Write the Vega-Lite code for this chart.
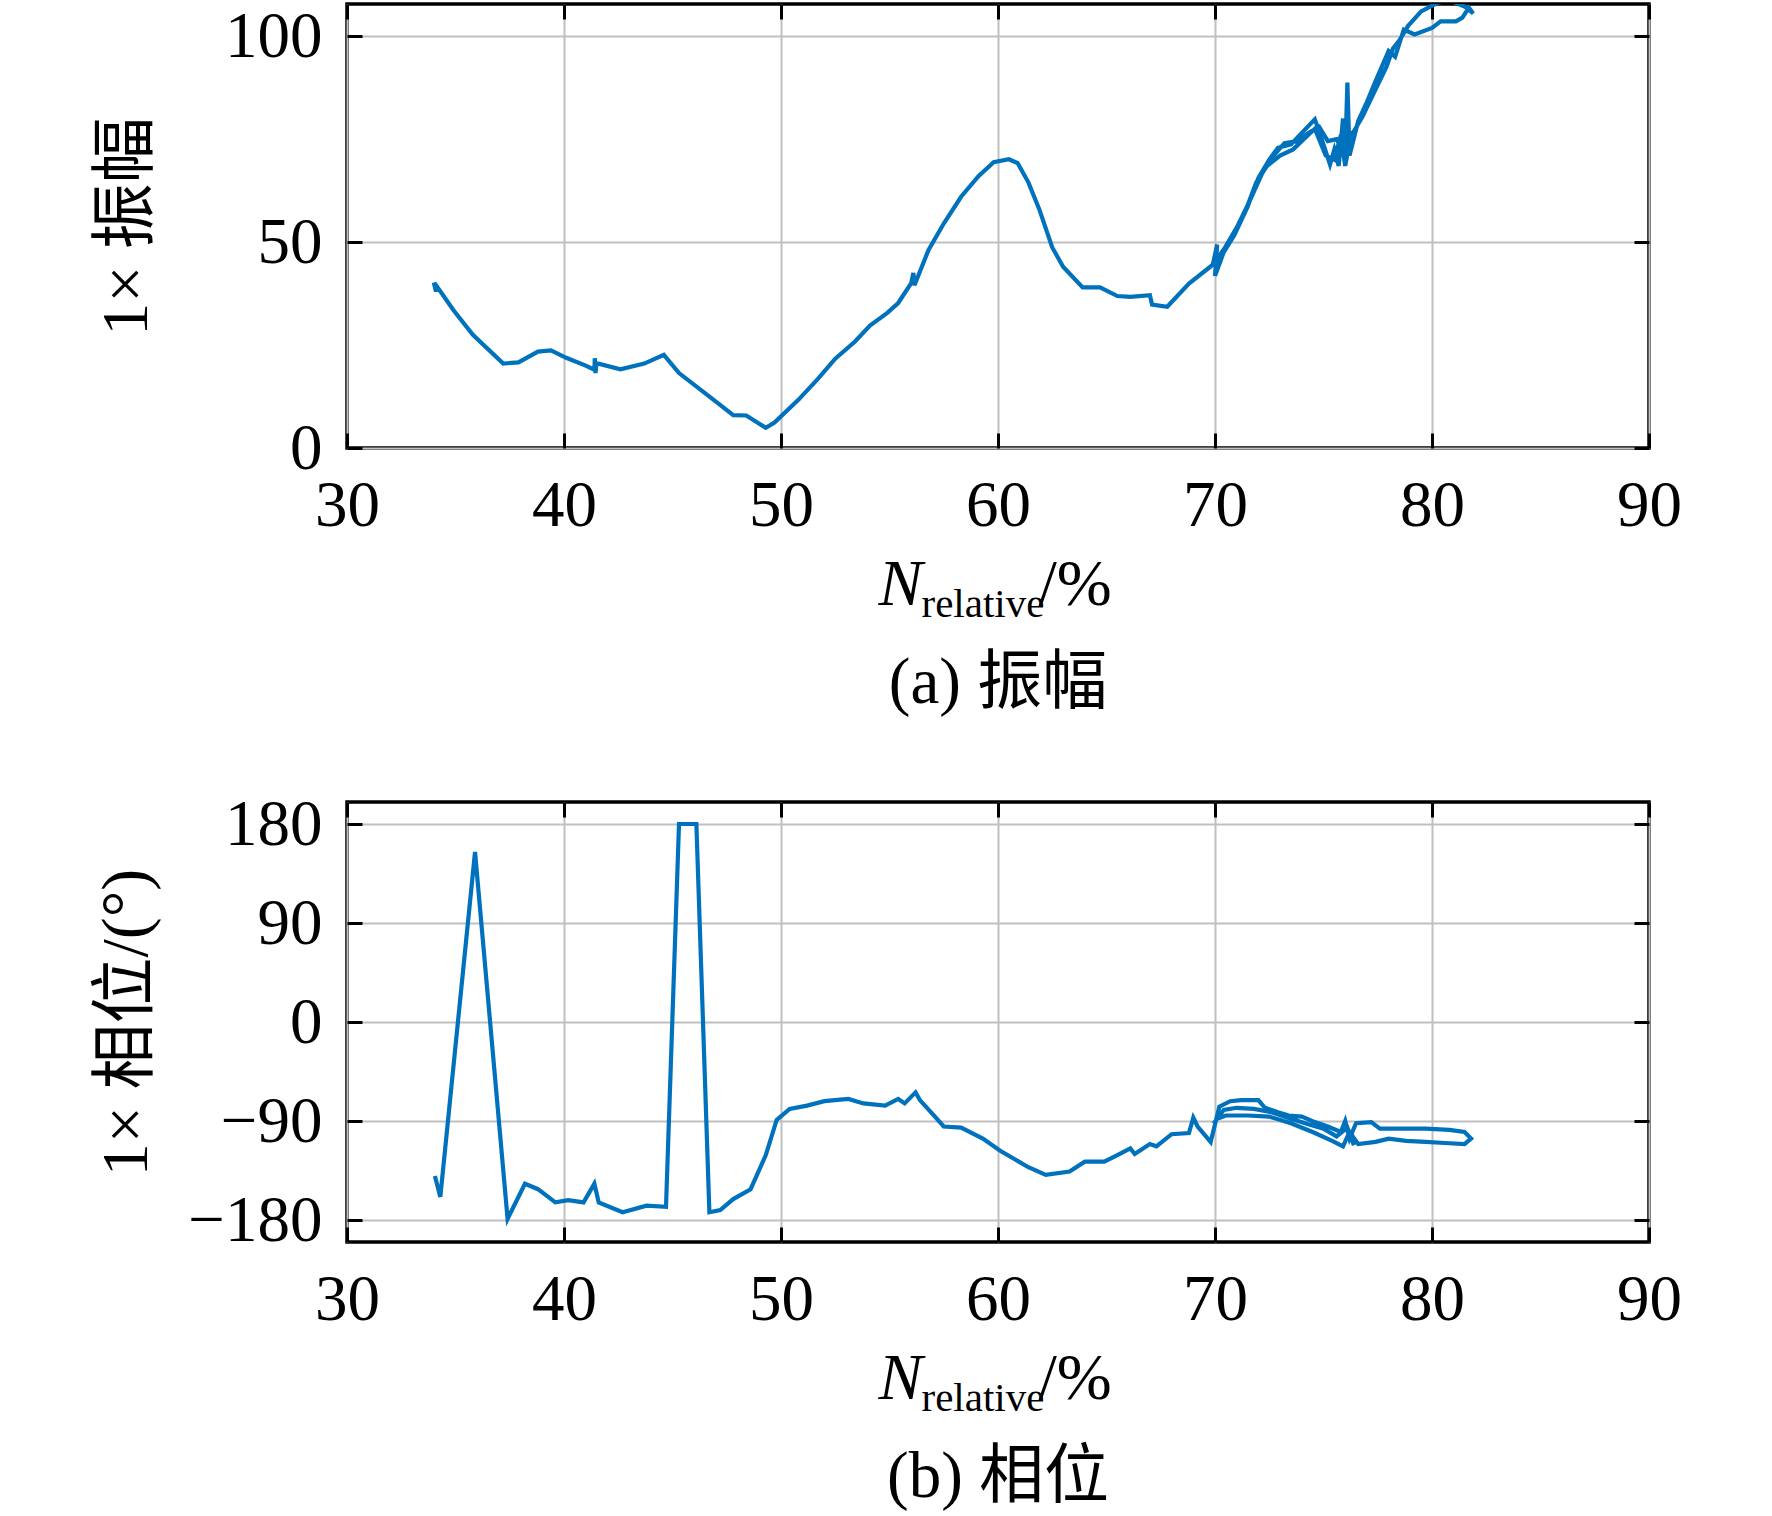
{
  "$schema": "https://vega.github.io/schema/vega-lite/v6.json",
  "padding": {"left": 91, "top": 0, "right": 0, "bottom": 0},
  "spacing": 354,
  "bounds": "flush",
  "background": "white",
  "config": {
    "view": {"stroke": "#000000", "strokeWidth": 3.5},
    "axis": {
      "labelFont": "Liberation Serif",
      "labelFontSize": 65,
      "labelColor": "#000000",
      "labelFlush": false,
      "titleFont": "Liberation Serif, Noto Sans CJK SC",
      "titleFontSize": 66,
      "titleFontWeight": "normal",
      "titleColor": "#000000",
      "tickColor": "#000000",
      "tickWidth": 3,
      "tickSize": -15,
      "domain": false,
      "gridColor": "#c0c0c0",
      "gridWidth": 2,
      "gridOpacity": 1
    },
    "title": {
      "font": "Liberation Serif, Noto Sans CJK SC",
      "fontSize": 65,
      "fontWeight": "normal",
      "color": "#000000"
    }
  },
  "vconcat": [
    {
      "width": 1302,
      "height": 444,
      "title": {"text": "(a) 振幅", "orient": "bottom", "frame": "group", "anchor": "middle", "baseline": "alphabetic", "offset": 79},
      "data": {
        "values": [
          {"n": 34.0, "amp": 40.2}, {"n": 34.1, "amp": 38.0}, {"n": 34.15, "amp": 39.2}, {"n": 34.9, "amp": 33.5},
          {"n": 35.8, "amp": 27.5}, {"n": 37.2, "amp": 20.5}, {"n": 37.9, "amp": 20.8}, {"n": 38.8, "amp": 23.4},
          {"n": 39.4, "amp": 23.7}, {"n": 40.1, "amp": 21.9}, {"n": 41.0, "amp": 20.0}, {"n": 41.4, "amp": 19.0},
          {"n": 41.42, "amp": 21.8}, {"n": 41.45, "amp": 18.2}, {"n": 41.5, "amp": 20.6}, {"n": 42.6, "amp": 19.1},
          {"n": 43.7, "amp": 20.5}, {"n": 44.6, "amp": 22.6}, {"n": 45.3, "amp": 18.2}, {"n": 46.6, "amp": 12.9},
          {"n": 47.8, "amp": 8.0}, {"n": 48.4, "amp": 7.9}, {"n": 49.3, "amp": 4.9}, {"n": 49.7, "amp": 6.2},
          {"n": 50.8, "amp": 11.7}, {"n": 51.7, "amp": 16.8}, {"n": 52.5, "amp": 21.7}, {"n": 53.4, "amp": 25.8},
          {"n": 54.1, "amp": 29.7}, {"n": 54.9, "amp": 32.8}, {"n": 55.4, "amp": 35.2}, {"n": 56.0, "amp": 40.0},
          {"n": 56.1, "amp": 42.5}, {"n": 56.15, "amp": 39.5}, {"n": 56.8, "amp": 48.1}, {"n": 57.5, "amp": 54.5},
          {"n": 58.3, "amp": 61.0}, {"n": 59.1, "amp": 66.0}, {"n": 59.8, "amp": 69.4}, {"n": 60.5, "amp": 70.1},
          {"n": 60.9, "amp": 69.2}, {"n": 61.4, "amp": 64.5}, {"n": 61.9, "amp": 58.0}, {"n": 62.5, "amp": 48.7},
          {"n": 63.0, "amp": 44.0}, {"n": 63.9, "amp": 39.0}, {"n": 64.7, "amp": 39.0}, {"n": 65.5, "amp": 36.9},
          {"n": 66.1, "amp": 36.7}, {"n": 67.0, "amp": 37.1}, {"n": 67.1, "amp": 34.8}, {"n": 67.8, "amp": 34.3},
          {"n": 68.8, "amp": 39.9}, {"n": 69.9, "amp": 44.5}, {"n": 70.1, "amp": 49.4}, {"n": 70.0, "amp": 41.8},
          {"n": 70.4, "amp": 47.5}, {"n": 70.9, "amp": 51.8}, {"n": 71.5, "amp": 58.5}, {"n": 72.0, "amp": 65.6},
          {"n": 72.5, "amp": 70.0}, {"n": 72.9, "amp": 72.9}, {"n": 73.5, "amp": 73.7}, {"n": 74.0, "amp": 76.5},
          {"n": 74.6, "amp": 79.8}, {"n": 74.8, "amp": 76.9}, {"n": 75.3, "amp": 68.8}, {"n": 75.5, "amp": 72.5},
          {"n": 75.7, "amp": 68.5}, {"n": 75.9, "amp": 80.0}, {"n": 76.0, "amp": 70.5}, {"n": 76.1, "amp": 88.7},
          {"n": 76.2, "amp": 71.0}, {"n": 76.6, "amp": 79.4}, {"n": 77.0, "amp": 84.0}, {"n": 77.4, "amp": 89.1},
          {"n": 78.0, "amp": 96.4}, {"n": 78.3, "amp": 95.0}, {"n": 78.7, "amp": 101.6}, {"n": 79.2, "amp": 100.4},
          {"n": 80.0, "amp": 102.0}, {"n": 80.4, "amp": 103.6}, {"n": 81.1, "amp": 103.6}, {"n": 81.4, "amp": 104.5},
          {"n": 81.7, "amp": 106.9}, {"n": 81.9, "amp": 105.5}, {"n": 81.5, "amp": 107.2}, {"n": 80.9, "amp": 108.5},
          {"n": 80.3, "amp": 108.2}, {"n": 79.5, "amp": 106.0}, {"n": 78.9, "amp": 102.5}, {"n": 78.5, "amp": 99.0},
          {"n": 78.2, "amp": 97.0}, {"n": 77.9, "amp": 92.5}, {"n": 77.3, "amp": 86.0}, {"n": 76.8, "amp": 80.5},
          {"n": 76.3, "amp": 76.0}, {"n": 75.9, "amp": 72.0}, {"n": 75.6, "amp": 75.0}, {"n": 75.2, "amp": 74.5},
          {"n": 74.8, "amp": 78.0}, {"n": 74.3, "amp": 76.5}, {"n": 73.8, "amp": 74.5}, {"n": 73.2, "amp": 74.0},
          {"n": 72.7, "amp": 71.0}, {"n": 72.2, "amp": 67.0}, {"n": 71.6, "amp": 60.0}, {"n": 71.0, "amp": 53.5},
          {"n": 70.5, "amp": 49.0}, {"n": 70.1, "amp": 45.5}, {"n": 69.9, "amp": 44.0}, {"n": 70.3, "amp": 47.5},
          {"n": 70.8, "amp": 51.0}, {"n": 71.4, "amp": 57.5}, {"n": 71.9, "amp": 64.5}, {"n": 72.4, "amp": 68.5},
          {"n": 73.0, "amp": 71.0}, {"n": 73.6, "amp": 72.5}, {"n": 74.1, "amp": 75.0}, {"n": 74.6, "amp": 77.5},
          {"n": 75.1, "amp": 71.0}, {"n": 75.5, "amp": 70.0}, {"n": 75.8, "amp": 76.0}, {"n": 76.0, "amp": 68.5},
          {"n": 76.3, "amp": 77.0}
        ]
      },
      "layer": [
        {
          "mark": {"type": "line", "color": "#0072BD", "strokeWidth": 4.2, "clip": true},
          "encoding": {
            "x": {
              "field": "n", "type": "quantitative",
              "scale": {"domain": [30, 90], "nice": false, "zero": false},
              "axis": {
                "orient": "bottom", "values": [30, 40, 50, 60, 70, 80, 90], "grid": true,
                "labelPadding": 41, "title": "N", "titleFontStyle": "italic",
                "titleX": 531, "titleY": 156, "titleAlign": "left", "titleBaseline": "alphabetic"
              }
            },
            "y": {
              "field": "amp", "type": "quantitative",
              "scale": {"domain": [0, 107.8], "nice": false, "zero": false},
              "axis": {
                "orient": "left", "values": [0, 50, 100], "grid": true,
                "labelPadding": 40, "title": "1× 振幅",
                "titleX": -221, "titleY": 222, "titleAlign": "center", "titleBaseline": "middle"
              }
            },
            "order": {"value": null}
          }
        },
        {
          "mark": {"type": "point", "opacity": 0, "clip": true},
          "encoding": {
            "x": {
              "field": "n", "type": "quantitative",
              "scale": {"domain": [30, 90], "nice": false, "zero": false},
              "axis": {
                "orient": "top", "values": [30, 40, 50, 60, 70, 80, 90], "grid": false, "labels": false,
                "title": "relative", "titleFontSize": 41, "titleFont": "Liberation Serif",
                "titleX": 574, "titleY": 612, "titleAlign": "left", "titleBaseline": "alphabetic"
              }
            },
            "y": {
              "field": "amp", "type": "quantitative",
              "scale": {"domain": [0, 107.8], "nice": false, "zero": false},
              "axis": {
                "orient": "right", "values": [0, 50, 100], "grid": false, "labels": false,
                "title": "/%", "titleFont": "Liberation Serif", "titleAngle": 0,
                "titleX": -611, "titleY": 600, "titleAlign": "left", "titleBaseline": "alphabetic"
              }
            }
          }
        }
      ],
      "resolve": {"scale": {"x": "independent", "y": "independent"}}
    },
    {
      "width": 1302,
      "height": 440,
      "title": {"text": "(b) 相位", "orient": "bottom", "frame": "group", "anchor": "middle", "baseline": "alphabetic", "offset": 79},
      "data": {
        "values": [
          {"n": 34.05, "ph": -140}, {"n": 34.3, "ph": -159}, {"n": 35.9, "ph": 154.5}, {"n": 37.4, "ph": -179},
          {"n": 38.2, "ph": -147}, {"n": 38.8, "ph": -152}, {"n": 39.6, "ph": -164}, {"n": 40.2, "ph": -162},
          {"n": 40.9, "ph": -164}, {"n": 41.4, "ph": -147}, {"n": 41.6, "ph": -164}, {"n": 42.7, "ph": -173},
          {"n": 43.8, "ph": -167}, {"n": 44.7, "ph": -168}, {"n": 45.3, "ph": 180}, {"n": 46.1, "ph": 180},
          {"n": 46.7, "ph": -173}, {"n": 47.2, "ph": -171}, {"n": 47.8, "ph": -161}, {"n": 48.6, "ph": -152},
          {"n": 49.3, "ph": -121}, {"n": 49.8, "ph": -89}, {"n": 50.4, "ph": -79}, {"n": 51.2, "ph": -76},
          {"n": 52.0, "ph": -72}, {"n": 53.1, "ph": -70}, {"n": 53.8, "ph": -74}, {"n": 54.8, "ph": -76},
          {"n": 55.4, "ph": -70}, {"n": 55.7, "ph": -74}, {"n": 56.2, "ph": -64}, {"n": 56.4, "ph": -71},
          {"n": 57.0, "ph": -84}, {"n": 57.5, "ph": -95}, {"n": 58.3, "ph": -96}, {"n": 59.3, "ph": -106},
          {"n": 60.1, "ph": -117}, {"n": 61.4, "ph": -132}, {"n": 62.2, "ph": -139}, {"n": 63.3, "ph": -136},
          {"n": 64.0, "ph": -127}, {"n": 64.9, "ph": -127}, {"n": 65.5, "ph": -121}, {"n": 66.1, "ph": -115},
          {"n": 66.3, "ph": -120}, {"n": 67.0, "ph": -111}, {"n": 67.3, "ph": -113}, {"n": 68.0, "ph": -102},
          {"n": 68.8, "ph": -101}, {"n": 69.0, "ph": -87}, {"n": 69.2, "ph": -95}, {"n": 69.8, "ph": -109},
          {"n": 70.2, "ph": -77}, {"n": 70.7, "ph": -72}, {"n": 71.2, "ph": -71}, {"n": 72.0, "ph": -71},
          {"n": 72.3, "ph": -78}, {"n": 72.9, "ph": -82}, {"n": 73.4, "ph": -85}, {"n": 74.0, "ph": -86},
          {"n": 74.6, "ph": -91}, {"n": 75.2, "ph": -95}, {"n": 75.8, "ph": -100}, {"n": 76.0, "ph": -90},
          {"n": 76.2, "ph": -106}, {"n": 76.5, "ph": -92}, {"n": 77.2, "ph": -91}, {"n": 77.6, "ph": -97},
          {"n": 78.5, "ph": -97}, {"n": 79.7, "ph": -97}, {"n": 80.8, "ph": -98}, {"n": 81.5, "ph": -100},
          {"n": 81.8, "ph": -106}, {"n": 81.5, "ph": -111}, {"n": 80.6, "ph": -110}, {"n": 79.7, "ph": -109},
          {"n": 78.8, "ph": -108}, {"n": 78.0, "ph": -106}, {"n": 77.4, "ph": -109}, {"n": 76.6, "ph": -111},
          {"n": 76.2, "ph": -100}, {"n": 75.9, "ph": -113}, {"n": 75.4, "ph": -108}, {"n": 74.5, "ph": -100},
          {"n": 73.5, "ph": -92}, {"n": 72.5, "ph": -86}, {"n": 71.5, "ph": -85}, {"n": 70.5, "ph": -85},
          {"n": 70.1, "ph": -88}, {"n": 70.4, "ph": -80}, {"n": 71.0, "ph": -78}, {"n": 71.8, "ph": -79},
          {"n": 72.6, "ph": -82}, {"n": 73.5, "ph": -88}, {"n": 74.3, "ph": -93}, {"n": 75.0, "ph": -97},
          {"n": 75.6, "ph": -104}, {"n": 76.1, "ph": -96}, {"n": 76.4, "ph": -112}
        ]
      },
      "layer": [
        {
          "mark": {"type": "line", "color": "#0072BD", "strokeWidth": 4.2, "clip": true},
          "encoding": {
            "x": {
              "field": "n", "type": "quantitative",
              "scale": {"domain": [30, 90], "nice": false, "zero": false},
              "axis": {
                "orient": "bottom", "values": [30, 40, 50, 60, 70, 80, 90], "grid": true,
                "labelPadding": 41, "title": "N", "titleFontStyle": "italic",
                "titleX": 531, "titleY": 156, "titleAlign": "left", "titleBaseline": "alphabetic"
              }
            },
            "y": {
              "field": "ph", "type": "quantitative",
              "scale": {"domain": [-200, 200], "nice": false, "zero": false},
              "axis": {
                "orient": "left", "values": [-180, -90, 0, 90, 180], "grid": true,
                "labelPadding": 40, "title": "1× 相位/(°)",
                "titleX": -221, "titleY": 220, "titleAlign": "center", "titleBaseline": "middle"
              }
            },
            "order": {"value": null}
          }
        },
        {
          "mark": {"type": "point", "opacity": 0, "clip": true},
          "encoding": {
            "x": {
              "field": "n", "type": "quantitative",
              "scale": {"domain": [30, 90], "nice": false, "zero": false},
              "axis": {
                "orient": "top", "values": [30, 40, 50, 60, 70, 80, 90], "grid": false, "labels": false,
                "title": "relative", "titleFontSize": 41, "titleFont": "Liberation Serif",
                "titleX": 574, "titleY": 608, "titleAlign": "left", "titleBaseline": "alphabetic"
              }
            },
            "y": {
              "field": "ph", "type": "quantitative",
              "scale": {"domain": [-200, 200], "nice": false, "zero": false},
              "axis": {
                "orient": "right", "values": [-180, -90, 0, 90, 180], "grid": false, "labels": false,
                "title": "/%", "titleFont": "Liberation Serif", "titleAngle": 0,
                "titleX": -611, "titleY": 596, "titleAlign": "left", "titleBaseline": "alphabetic"
              }
            }
          }
        }
      ],
      "resolve": {"scale": {"x": "independent", "y": "independent"}}
    }
  ]
}
